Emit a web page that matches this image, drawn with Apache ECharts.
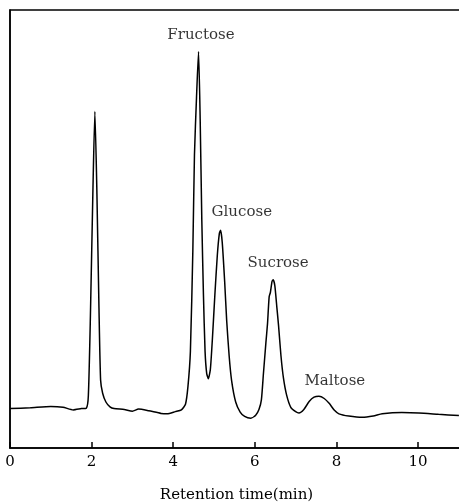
<!DOCTYPE html>
<html>
<head>
<meta charset="utf-8">
<script src="https://cdn.jsdelivr.net/npm/echarts@6/dist/echarts.min.js"></script>
<style>
  html, body { margin: 0; padding: 0; background: #fff; }
  #chart { width: 459px; height: 503px; }
</style>
</head>
<body>
<div id="chart"></div>
<script>
// Retention time (min) and detector response
const timeMin = [
    0, 0.5, 1.0, 1.3, 1.55, 1.75, 1.87, 1.92, 1.97, 2.03, 2.08, 2.13, 2.18, 2.22, 2.27,
    2.35, 2.45, 2.55, 2.8, 3.0, 3.15, 3.4, 3.7, 3.85, 4.05, 4.2, 4.3, 4.36, 4.42, 4.48,
    4.52, 4.57, 4.62, 4.66, 4.70, 4.74, 4.78, 4.82, 4.86, 4.91, 4.96, 5.02, 5.08, 5.13,
    5.16, 5.20, 5.26, 5.31, 5.37, 5.43, 5.53, 5.64, 5.75, 5.90, 6.02, 6.10, 6.16, 6.21,
    6.27, 6.31, 6.35, 6.38, 6.42, 6.45, 6.49, 6.54, 6.58, 6.64, 6.70, 6.78, 6.88, 7.0,
    7.08, 7.2, 7.33, 7.45, 7.57, 7.70, 7.82, 7.95, 8.06, 8.3, 8.63, 8.9, 9.12, 9.6,
    10.02, 10.5, 11.0
];
const response = [
    9.0, 9.2, 9.5, 9.3, 8.7, 9.0, 9.1, 12, 30, 58, 76.8, 58, 32, 15.5, 12.5,
    10.5, 9.4, 9.0, 8.8, 8.4, 8.9, 8.5, 7.9, 7.8, 8.3, 8.7, 10, 14, 22, 45,
    67, 80, 90.5, 75, 52, 35, 22, 17, 15.8, 18, 25, 35, 44, 49,
    49.7, 47, 38, 29, 21, 15.4, 10.5, 8.2, 7.2, 6.8, 7.5, 8.8, 11, 17,
    24, 28.4, 34.5, 35.5, 38, 38.4, 37, 32, 28, 21, 16, 12, 9.3, 8.3,
    8.0, 8.8, 10.6, 11.6, 11.8, 11.3, 10.2, 8.6, 7.8, 7.3, 7.0, 7.3, 7.8, 8.1,
    8.0, 7.7, 7.4
];

// Peak labels
const peakNames = ['Fructose', 'Glucose', 'Sucrose', 'Maltose'];
const peakLabelX = [4.68, 5.68, 6.57, 7.96];
const peakLabelY = [94.3, 53.8, 42.2, 15.2];

const xTicks = [0, 2, 4, 6, 8, 10];

const chart = echarts.init(document.getElementById('chart'));

const serif = 'DejaVu Serif';

chart.setOption({
    animation: false,
    grid: {
        left: 10,
        right: -4,
        top: 10,
        bottom: 55,
        outerBoundsMode: 'none',
        containLabel: false,
        show: true,
        borderColor: '#000',
        borderWidth: 1.5
    },
    xAxis: {
        type: 'value',
        min: 0,
        max: 11.1,
        interval: 2,
        name: 'Retention time(min)',
        nameLocation: 'middle',
        nameGap: 40,
        nameTextStyle: { fontFamily: serif, fontSize: 15, color: '#000' },
        axisLine: { lineStyle: { color: '#000', width: 1.5 } },
        axisTick: { inside: true, length: 6, lineStyle: { color: '#000', width: 1.5 } },
        axisLabel: {
            fontFamily: serif, fontSize: 15, color: '#000', margin: 7,
            formatter: v => xTicks.includes(v) ? String(v) : ''
        },
        splitLine: { show: false }
    },
    yAxis: {
        type: 'value',
        min: 0,
        max: 100,
        axisLine: { show: true, lineStyle: { color: '#000', width: 1.5 } },
        axisTick: { show: false },
        axisLabel: { show: false },
        splitLine: { show: false }
    },
    series: [
        {
            type: 'line',
            data: timeMin.map((t, i) => [t, response[i]]),
            symbol: 'none',
            smooth: 0.2,
            lineStyle: { color: '#000', width: 1.5 }
        },
        {
            type: 'scatter',
            data: peakNames.map((n, i) => ({ name: n, value: [peakLabelX[i], peakLabelY[i]] })),
            symbolSize: 0,
            label: {
                show: true,
                position: 'inside',
                formatter: p => p.name,
                fontFamily: serif,
                fontSize: 15,
                color: '#000'
            }
        }
    ]
});
</script>
</body>
</html>
